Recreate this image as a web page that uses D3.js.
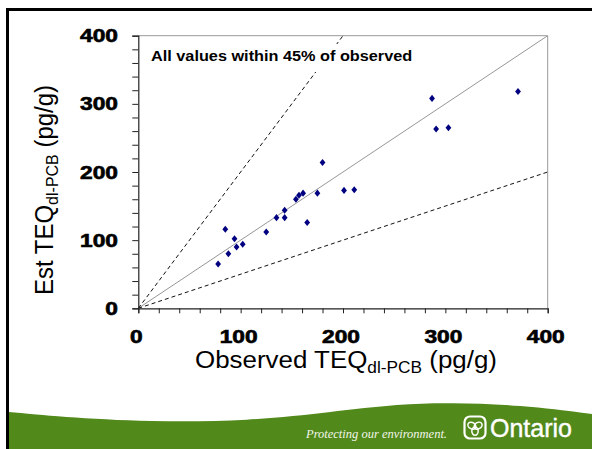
<!DOCTYPE html>
<html><head><meta charset="utf-8">
<script src="https://cdn.jsdelivr.net/npm/d3@7"></script>
<style>
html,body{margin:0;padding:0;background:#fff;}
svg{display:block;}
text{font-family:"Liberation Sans",Arial,sans-serif;}
</style></head>
<body>
<svg id="chart" width="592" height="449"></svg>
<script>
// ---- data ----
const observed = [78, 85, 88, 94, 96, 102, 125, 135, 143, 143, 154, 157, 161, 165, 175, 180, 201, 211, 287, 291, 303, 371];
const estimated = [65, 116, 80, 102, 90, 94, 112, 133, 144, 133, 160, 166, 169, 126, 169, 214, 173, 174, 308, 263, 265, 318];
const xTickLabels = [0, 100, 200, 300, 400];
const yTickLabels = [0, 100, 200, 300, 400];
const refLines = [
  {name: "1:1", slope: 1, dashed: false},
  {name: "+100%", slope: 2, dashed: true},
  {name: "-50%", slope: 0.5, dashed: true}
];
const annotation = "All values within 45% of observed";
const xTitle = ["Observed TEQ", "dl-PCB", " (pg/g)"];
const yTitle = ["Est TEQ", "dl-PCB", " (pg/g)"];

(function () {
const svg = d3.select("#chart");
const W = 592, H = 449;
const pL = 138.3, pR = 547.7, pT = 35.7, pB = 308.3;
const x = d3.scaleLinear().domain([0, 400]).range([pL, pR]);
const y = d3.scaleLinear().domain([0, 400]).range([pB, pT]);

// slide frame
svg.append("line").attr("x1", 6).attr("x2", W).attr("y1", 9.5).attr("y2", 9.5)
  .attr("stroke", "#000").attr("stroke-width", 3);
svg.append("line").attr("x1", 7.5).attr("x2", 7.5).attr("y1", 8).attr("y2", H)
  .attr("stroke", "#000").attr("stroke-width", 3);

// green banner
const wave = d3.line().curve(d3.curveBasis)([
  [9, 412], [60, 417], [150, 422], [250, 421], [330, 412], [400, 404], [450, 402.5], [520, 405], [592, 414]
]);
svg.append("path")
  .attr("d", wave + " L592,449 L9,449 Z")
  .attr("fill", "#51891b");

svg.append("text").attr("x", 306).attr("y", 438)
  .attr("font-style", "italic").attr("font-size", 11.5).attr("fill", "#f2f6ea")
  .attr("textLength", 141).attr("lengthAdjust", "spacingAndGlyphs")
  .style("font-family", "'Liberation Serif','DejaVu Serif',serif")
  .text("Protecting our environment.");

// Ontario logo
const logo = svg.append("g").attr("transform", "translate(475,427.5)");
logo.append("rect").attr("x", -10.5).attr("y", -11).attr("width", 21).attr("height", 22).attr("rx", 5.5)
  .attr("fill", "none").attr("stroke", "#fff").attr("stroke-width", 2.2);
[0, 120, 240].forEach(a => {
  logo.append("ellipse").attr("cx", 0).attr("cy", -3.6).attr("rx", 3.2).attr("ry", 4.2)
    .attr("transform", `rotate(${a + 180})`)
    .attr("fill", "none").attr("stroke", "#fff").attr("stroke-width", 1.5);
});
svg.append("text").attr("x", 490).attr("y", 437).attr("font-size", 25).attr("fill", "#fff")
  .attr("stroke", "#fff").attr("stroke-width", 0.4)
  .text("Ontario");

// plot frame (top/right grey)
svg.append("line").attr("x1", pL).attr("x2", pR).attr("y1", pT).attr("y2", pT)
  .attr("stroke", "#999").attr("stroke-width", 1);
svg.append("line").attr("x1", pR).attr("x2", pR).attr("y1", pT).attr("y2", pB)
  .attr("stroke", "#999").attr("stroke-width", 1);

// reference lines
svg.append("clipPath").attr("id", "clip").append("rect")
  .attr("x", pL).attr("y", pT).attr("width", pR - pL).attr("height", pB - pT);
const lineG = svg.append("g").attr("clip-path", "url(#clip)");
refLines.forEach(r => {
  const xEnd = Math.min(400, 400 / r.slope);
  lineG.append("line")
    .attr("x1", x(0)).attr("y1", y(0))
    .attr("x2", x(xEnd)).attr("y2", y(xEnd * r.slope))
    .attr("stroke", r.dashed ? "#111" : "#8a8a8a")
    .attr("stroke-width", r.dashed ? 1 : 0.9)
    .attr("stroke-dasharray", r.dashed ? "4,3" : null);
});

// annotation box (white background hides dashed line)
svg.append("rect").attr("x", 146).attr("y", 44).attr("width", 280).attr("height", 28).attr("fill", "#fff");
svg.append("text").attr("transform", "translate(151,61) scale(1.085,1)")
  .attr("font-size", 15).attr("font-weight", "bold").attr("fill", "#000")
  .text(annotation);

// axes
const xAxis = d3.axisBottom(x).tickValues(d3.range(0, 401, 20)).tickSize(5).tickFormat("");
const yAxis = d3.axisLeft(y).tickValues(d3.range(0, 401, 20)).tickSize(6).tickFormat("");
const gx = svg.append("g").attr("transform", `translate(0,${pB})`).call(xAxis);
const gy = svg.append("g").attr("transform", `translate(${pL},0)`).call(yAxis);
[gx, gy].forEach(g => {
  g.select(".domain").attr("stroke", "#222").attr("stroke-width", 1.2);
  g.selectAll(".tick line").attr("stroke", "#222").attr("stroke-width", 1);
});

// tick labels
svg.append("g").selectAll("text").data(xTickLabels).join("text")
  .attr("transform", d => `translate(${x(d) - 2},343) scale(1.3,1)`)
  .attr("text-anchor", "middle").attr("font-size", 17.5).attr("font-weight", "bold")
  .attr("stroke", "#000").attr("stroke-width", 0.6)
  .text(d => d);
svg.append("g").selectAll("text").data(yTickLabels).join("text")
  .attr("transform", d => `translate(118,${y(d) + 6.5}) scale(1.3,1)`)
  .attr("text-anchor", "end").attr("font-size", 17.5).attr("font-weight", "bold")
  .attr("stroke", "#000").attr("stroke-width", 0.6)
  .text(d => d);

// axis titles
function title(g, parts) {
  const t = g.append("text").attr("font-size", 24).attr("text-anchor", "middle").attr("fill", "#000");
  t.append("tspan").text(parts[0]);
  t.append("tspan").attr("font-size", 16).attr("dy", 5).text(parts[1]);
  t.append("tspan").attr("dy", -5).text(parts[2]);
}
title(svg.append("g").attr("transform", "translate(346,368) scale(1.08,1)"), xTitle);
title(svg.append("g").attr("transform", "translate(53,190) scale(1.08,1) rotate(-90)"), yTitle);

// points
const sym = d3.symbol().type(d3.symbolDiamond).size(16);
svg.append("g").selectAll("path").data(observed.map((o, i) => [o, estimated[i]])).join("path")
  .attr("d", sym)
  .attr("transform", d => `translate(${x(d[0])},${y(d[1])}) scale(1.35,0.95)`)
  .attr("fill", "#000080");
})();
</script>
</body></html>
